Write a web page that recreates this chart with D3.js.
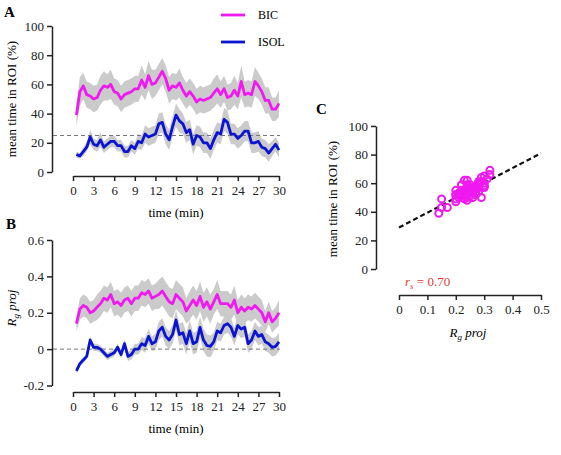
<!DOCTYPE html>
<html>
<head>
<meta charset="utf-8">
<script src="https://cdn.jsdelivr.net/npm/d3@7"></script>
<style>
  body { margin: 0; background: #fff; }
  text { font-family: "Liberation Serif", "Times New Roman", serif; }
  .axis path, .axis line { stroke: #222; stroke-width: 1.5; }
  .axis text { font-size: 13px; fill: #222; font-family: "Liberation Serif", serif; }
</style>
</head>
<body>
<script>
// time points, 0.5 min steps
const times = d3.range(1, 61).map(i => i / 2);

// panel A: mean time in ROI (%)
const roiBic = [39,55,59,53,52,50,51,56,59,58,60,55,54,50,53,54,55,57,57,63,58,66,60,61,65,69,64,56,59,58,
                61,56,52,55,52,48,50,49,50,51,54,57,53,57,51,52,56,52,62,53,54,53,62,59,55,49,49,43,43,47];
const roiIsol = [12,11,14,17,24,19,18,22,17,19,21,21,18,18,14,14,18,16,21,20,26,24,25,26,33,34,26,22,31,39,
                 35,33,27,29,19,25,24,20,20,16,22,27,26,36,34,26,26,23,25,28,28,20,20,21,17,16,13,16,19,15];
const roiBicSem = [8,10,9,9,9,9,9,10,10,9,10,9,9,9,9,9,9,9,9,10,9,10,10,9,9,9,9,9,9,9,
                   10,9,9,9,9,9,9,9,9,9,10,10,9,9,9,9,10,9,11,9,9,9,10,9,9,9,9,8,8,9];
const roiIsolSem = [2,2,3,3,5,4,4,5,4,4,4,4,4,4,4,4,4,4,5,5,6,6,6,6,7,7,7,7,7,8,
                    8,7,7,7,7,7,7,7,7,7,7,7,7,8,8,7,7,7,7,7,7,7,7,7,6,6,6,5,5,5];

// panel B: Rg proj
const rgBic = [0.14,0.22,0.24,0.23,0.20,0.21,0.23,0.25,0.28,0.27,0.30,0.25,0.26,0.24,0.27,0.28,0.25,0.28,0.28,0.31,
               0.30,0.32,0.28,0.29,0.30,0.32,0.29,0.26,0.25,0.30,0.28,0.26,0.21,0.24,0.27,0.24,0.29,0.23,0.26,0.22,
               0.26,0.30,0.25,0.25,0.25,0.23,0.27,0.20,0.23,0.21,0.23,0.22,0.24,0.22,0.20,0.15,0.20,0.15,0.17,0.20];
const rgIsol = [-0.12,-0.08,-0.06,-0.04,0.05,0.01,0.01,0,-0.02,-0.04,-0.03,-0.02,0.01,-0.03,0.03,-0.04,-0.03,0,0,0.03,
                0.02,0.07,0.03,0.04,0.10,0.12,0.07,0.05,0.08,0.16,0.08,0.09,0.03,0.10,0.03,0.04,0.12,0.05,0.02,0.015,
                0.04,0.10,0.09,0.13,0.14,0.12,0.07,0.13,0.11,0.12,0.03,0.05,0.10,0.07,0.08,0.04,0.03,0.01,0.015,0.04];
const rgBicSem = [0.04,0.06,0.06,0.06,0.06,0.06,0.07,0.07,0.07,0.07,0.07,0.07,0.07,0.07,0.07,0.07,0.07,0.07,0.07,0.07,
                  0.07,0.07,0.07,0.07,0.08,0.08,0.08,0.08,0.08,0.08,0.08,0.08,0.07,0.08,0.08,0.08,0.08,0.08,0.08,0.08,
                  0.07,0.08,0.07,0.07,0.07,0.07,0.08,0.07,0.07,0.07,0.07,0.07,0.07,0.07,0.07,0.06,0.06,0.06,0.06,0.07];
const rgIsolSem = [0.015,0.015,0.015,0.015,0.02,0.02,0.02,0.02,0.02,0.02,0.02,0.02,0.02,0.02,0.025,0.025,0.025,0.03,0.03,0.035,
                   0.04,0.04,0.04,0.045,0.05,0.05,0.05,0.05,0.05,0.055,0.06,0.06,0.06,0.06,0.06,0.06,0.06,0.06,0.06,0.06,
                   0.05,0.05,0.05,0.05,0.05,0.05,0.05,0.05,0.05,0.05,0.05,0.05,0.05,0.05,0.05,0.05,0.05,0.05,0.05,0.05];

// panel C: regression of ROI on Rg (BIC)
const regIntercept = 29;
const regSlope = 104;
const rsLabel = "0.70";

const xTicks = [0,3,6,9,12,15,18,21,24,27,30];
const roiTicks = [0,20,40,60,80,100];
const rgTicks = [-0.2,0,0.2,0.4,0.6];
const rgScatterTicks = [0,0.1,0.2,0.3,0.4,0.5];

const magenta = "#f019f0", blue = "#0a14d2", band = "#cbcbcb";

const svg = d3.select("body").append("svg")
  .attr("width", 561).attr("height", 455);

const x = d3.scaleLinear().domain([0, 30]).range([73, 279]);
const yA = d3.scaleLinear().domain([0, 100]).range([172, 26]);
const yB = d3.scaleLinear().domain([-0.2, 0.6]).range([385.5, 240]);
const xC = d3.scaleLinear().domain([0, 0.5]).range([399, 541]);
const yC = d3.scaleLinear().domain([0, 100]).range([269, 126]);

function drawSeries(y, vals, sem) {
  const pts = times.map((t, i) => ({ t, v: vals[i], s: sem[i] }));
  svg.append("path").datum(pts)
    .attr("fill", band)
    .attr("d", d3.area().x(d => x(d.t)).y0(d => y(d.v - d.s)).y1(d => y(d.v + d.s)));
  return pts;
}
function drawLine(y, pts, color) {
  svg.append("path").datum(pts)
    .attr("fill", "none").attr("stroke", color).attr("stroke-width", 2.8)
    .attr("stroke-linejoin", "round")
    .attr("d", d3.line().x(d => x(d.t)).y(d => y(d.v)));
}

function leftAxis(y, xpos, ticks, fmt) {
  svg.append("g").attr("class", "axis")
    .attr("transform", `translate(${xpos},0)`)
    .call(d3.axisLeft(y).tickValues(ticks).tickSize(5).tickSizeOuter(0).tickPadding(3).tickFormat(fmt));
}
function bottomAxis(xs, ypos, ticks, fmt) {
  svg.append("g").attr("class", "axis")
    .attr("transform", `translate(0,${ypos})`)
    .call(d3.axisBottom(xs).tickValues(ticks).tickSize(5).tickSizeOuter(0).tickPadding(5).tickFormat(fmt));
}
const plain = d => d === 0 ? "0" : String(d);

// ---- panel A
let pBic = drawSeries(yA, roiBic, roiBicSem);
let pIsol = drawSeries(yA, roiIsol, roiIsolSem);
svg.append("line").attr("x1", 53).attr("x2", 280).attr("y1", yA(25)).attr("y2", yA(25))
  .attr("stroke", "#777").attr("stroke-width", 1).attr("stroke-dasharray", "4,3");
drawLine(yA, pBic, magenta);
drawLine(yA, pIsol, blue);
leftAxis(yA, 52, roiTicks, plain);
bottomAxis(x, 176, xTicks, plain);

svg.append("text").attr("x", 4).attr("y", 17).attr("font-weight", "bold").attr("font-size", 15).text("A");
svg.append("text").attr("transform", "translate(16,99) rotate(-90)").attr("text-anchor", "middle")
  .attr("font-size", 13).text("mean time in ROI (%)");
svg.append("text").attr("x", 176).attr("y", 217).attr("text-anchor", "middle").attr("font-size", 13).text("time (min)");

// legend
[["BIC", magenta, 15], ["ISOL", blue, 42]].forEach(([name, c, ly]) => {
  svg.append("line").attr("x1", 221).attr("x2", 245).attr("y1", ly).attr("y2", ly)
    .attr("stroke", c).attr("stroke-width", 2.8);
  svg.append("text").attr("x", 258).attr("y", ly + 4).attr("font-size", 12).text(name);
});

// ---- panel B
pBic = drawSeries(yB, rgBic, rgBicSem);
pIsol = drawSeries(yB, rgIsol, rgIsolSem);
svg.append("line").attr("x1", 53).attr("x2", 280).attr("y1", yB(0)).attr("y2", yB(0))
  .attr("stroke", "#777").attr("stroke-width", 1).attr("stroke-dasharray", "4,3");
drawLine(yB, pBic, magenta);
drawLine(yB, pIsol, blue);
leftAxis(yB, 52, rgTicks, plain);
bottomAxis(x, 392, xTicks, plain);

svg.append("text").attr("x", 6).attr("y", 229).attr("font-weight", "bold").attr("font-size", 15).text("B");
const rgLab = svg.append("text").attr("transform", "translate(16,308) rotate(-90)")
  .attr("text-anchor", "middle").attr("font-size", 13).attr("font-style", "italic");
rgLab.append("tspan").text("R");
rgLab.append("tspan").attr("font-size", 9).attr("dy", 3).text("g");
rgLab.append("tspan").attr("dy", -3).text(" proj");
svg.append("text").attr("x", 176).attr("y", 433).attr("text-anchor", "middle").attr("font-size", 13).text("time (min)");

// ---- panel C
const scatter = rgBic.map((r, i) => ({ r, v: roiBic[i] }));
svg.append("line")
  .attr("x1", xC(0)).attr("y1", yC(regIntercept))
  .attr("x2", xC(0.5)).attr("y2", yC(regIntercept + regSlope * 0.5))
  .attr("stroke", "#111").attr("stroke-width", 2.2).attr("stroke-dasharray", "5,3");
svg.selectAll("circle.pt").data(scatter).enter().append("circle")
  .attr("class", "pt")
  .attr("cx", d => xC(d.r)).attr("cy", d => yC(d.v)).attr("r", 3.5)
  .attr("fill", "none").attr("stroke", magenta).attr("stroke-width", 2);
leftAxis(yC, 376, roiTicks, plain);
bottomAxis(xC, 295, rgScatterTicks, plain);

svg.append("text").attr("x", 316).attr("y", 114).attr("font-weight", "bold").attr("font-size", 15).text("C");
svg.append("text").attr("transform", "translate(337,199) rotate(-90)").attr("text-anchor", "middle")
  .attr("font-size", 13).text("mean time in ROI (%)");
const rs = svg.append("text").attr("x", 405).attr("y", 286).attr("font-size", 13).attr("fill", "#e23a36");
rs.append("tspan").attr("font-style", "italic").text("r");
rs.append("tspan").attr("font-style", "italic").attr("font-size", 9).attr("dy", 3).text("s");
rs.append("tspan").attr("dy", -3).text(" = " + rsLabel);
const rgC = svg.append("text").attr("x", 468).attr("y", 337).attr("text-anchor", "middle")
  .attr("font-size", 13).attr("font-style", "italic");
rgC.append("tspan").text("R");
rgC.append("tspan").attr("font-size", 9).attr("dy", 3).text("g");
rgC.append("tspan").attr("dy", -3).text(" proj");
</script>
</body>
</html>
